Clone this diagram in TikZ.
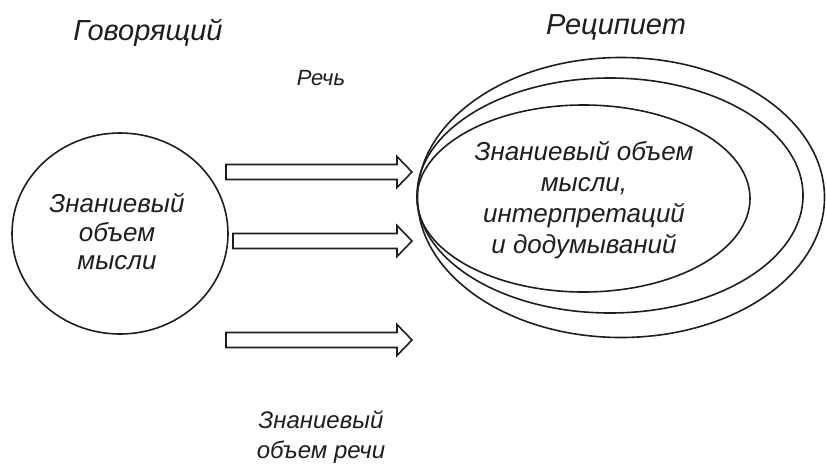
\documentclass[tikz,border=0pt]{standalone}
\usepackage{fontspec}
\setmainfont{Liberation Sans}
\definecolor{ink}{HTML}{1E1E1E}
\begin{document}
\begin{tikzpicture}[x=1pt,y=-1pt,
  lbl/.style={text=ink,font=\itshape,inner sep=0pt,align=center},
  title/.style={lbl,font=\itshape\fontsize{29}{32}\selectfont},
  body/.style={lbl,font=\itshape\fontsize{26}{30}\selectfont},
  outline/.style={draw=ink,line width=1.6pt},
  blockarrow/.style={draw=ink,line width=1.6pt,fill=white,line join=miter}]
\useasboundingbox (0,0) rectangle (826,464);
% speaker circle
\draw[outline] (120,233.5) ellipse [x radius=108,y radius=100.5];
\node[body,font=\itshape\fontsize{26}{28.5}\selectfont] (spk) at (117,232) {Знаниевый\\объем\\мысли};
% recipient ellipses
\draw[outline] (621,197.5) ellipse [x radius=203.5,y radius=140];
\draw[outline] (610,195.5) ellipse [x radius=193,y radius=117.5];
\draw[outline] (583.5,198.5) ellipse [x radius=166.5,y radius=93.5];
\node[body,font=\itshape\fontsize{26}{31}\selectfont] (rec) at (584,200) {Знаниевый объем\\мысли,\\интерпретаций\\и додумываний};
% titles
\node[title] (t1) at (148,33) {Говорящий};
\node[title] (t2) at (616,27) {Реципиет};
\node[lbl,font=\itshape\fontsize{22}{26}\selectfont] (speech) at (321,78) {Речь};
\node[lbl,font=\itshape\fontsize{24}{30}\selectfont] (vol) at (321,437) {Знаниевый\\объем речи};
% block arrows
\foreach \n/\tx/\yy in {a1/226/172, a2/233/241, a3/226/340}{
  \coordinate (\n t) at (\tx,\yy);
  \coordinate (\n h) at (412,\yy);
  \draw[blockarrow] (\tx,\yy-7.5) -- (397,\yy-7.5) -- (397,\yy-15.5) -- (\n h)
     -- (397,\yy+15.5) -- (397,\yy+7.5) -- (\tx,\yy+7.5) -- cycle;
}
\end{tikzpicture}
\end{document}
